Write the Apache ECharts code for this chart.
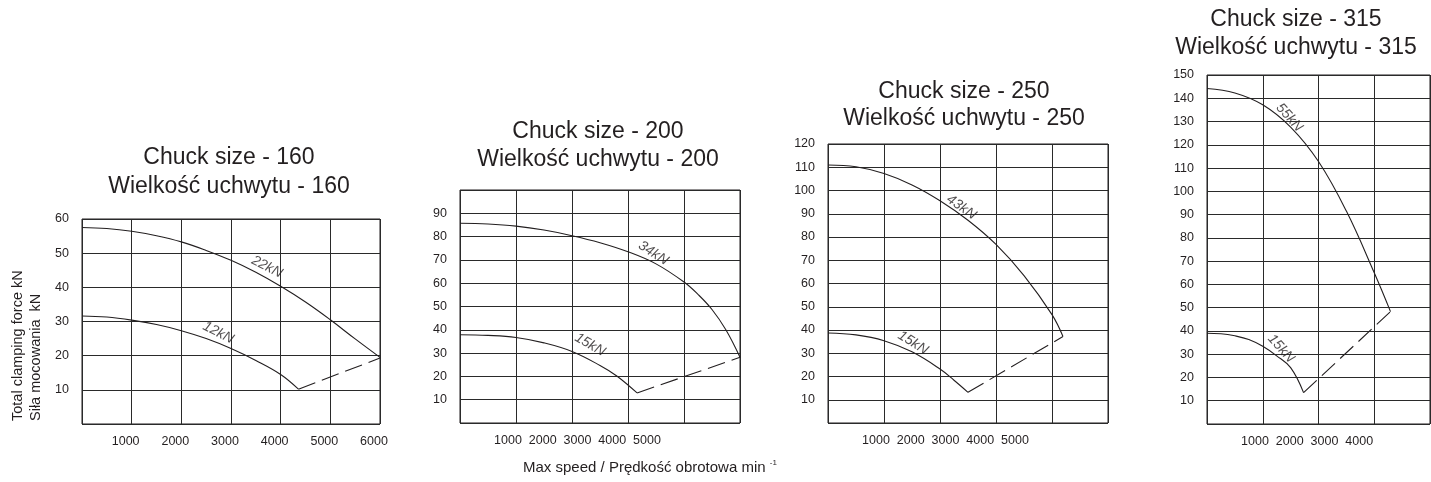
<!DOCTYPE html>
<html><head><meta charset="utf-8">
<script src="https://cdn.jsdelivr.net/npm/echarts@6/dist/echarts.min.js"></script>
<style>html,body{margin:0;padding:0;background:#fff}#c{width:1431px;height:482px}</style>
</head><body><div id="c"></div>
<script>
// ---------- DATA ----------
const titles = [
  ['Chuck size - 160', 'Wielkość uchwytu - 160'],
  ['Chuck size - 200', 'Wielkość uchwytu - 200'],
  ['Chuck size - 250', 'Wielkość uchwytu - 250'],
  ['Chuck size - 315', 'Wielkość uchwytu - 315']
];
const yAxisName = ['Total clamping force kN', 'Siła mocowania  kN'];
const xAxisName = 'Max speed / Prędkość obrotowa min';
const xAxisNameSup = '-1';

// value axes of each panel (grid scale)
const xMaxes = [6000, 5000, 5000, 4000];
const yMaxes = [60, 100, 120, 150];
// printed speed labels
const speedLabels160 = [1000, 2000, 3000, 4000, 5000, 6000];
const speedLabels200 = [1000, 2000, 3000, 4000, 5000];
const speedLabels250 = [1000, 2000, 3000, 4000, 5000];
const speedLabels315 = [1000, 2000, 3000, 4000];

// curves [speed, force]
const curve160_22kN = [[0,57.5],[500,57.2],[1000,56.4],[1500,55.1],[2000,53.3],[2500,50.8],[3000,47.9],[3500,44.4],[4000,40.3],[4500,35.7],[5000,30.5],[5500,24.9],[6000,19.5]];
const curve160_12kN = [[0,31.6],[500,31.3],[1000,30.4],[1500,29.1],[2000,27.3],[2500,25.0],[3000,22.1],[3500,18.6],[4000,14.5],[4358,10.2]];
const dash160 = [[4358,10.2],[6000,19.3]];

const curve200_34kN = [[0,85.7],[500,85.4],[1000,84.5],[1500,82.8],[2000,80.4],[2500,77.4],[3000,73.5],[3500,68.3],[4000,60.5],[4250,55.2],[4500,48.7],[4750,39.9],[5000,28.2]];
const curve200_15kN = [[0,37.9],[500,37.6],[1000,36.7],[1500,34.4],[2000,30.7],[2500,24.7],[2800,20.2],[3162,12.9]];
const dash200 = [[3162,12.9],[5000,28.2]];

const curve250_43kN = [[0,111.0],[500,110.2],[1000,107.3],[1500,102.4],[2000,95.6],[2500,87.2],[3000,76.8],[3500,63.4],[4000,46.6],[4196,37.2]];
const curve250_15kN = [[0,38.7],[500,37.9],[1000,35.4],[1500,30.6],[2000,23.2],[2250,18.4],[2500,13.2]];
const dash250 = [[2500,13.2],[4196,37.2]];

const curve315_55kN = [[0,144.2],[500,142.3],[1000,137.2],[1500,127.6],[2000,112.8],[2500,91.5],[3000,65.0],[3292,48.3]];
const curve315_15kN = [[0,39.0],[250,38.8],[500,37.9],[750,36.3],[1000,33.4],[1250,29.3],[1500,24.2],[1732,13.5]];
const dash315 = [[1732,13.5],[3292,48.3]];

// curve labels [text, speed, force]
const labels160 = [['22kN', 3725, 46.0], ['12kN', 2744, 26.7]];
const labels200 = [['34kN', 3452, 72.9], ['15kN', 2321, 33.6]];
const labels250 = [['43kN', 2382, 92.8], ['15kN', 1518, 34.5]];
const labels315 = [['55kN', 1477, 131.7], ['15kN', 1329, 32.4]];

// ---------- LAYOUT / STYLE ----------
const INK = '#231f20';
const GRIDC = '#2a2a2a';
const TICKFONT = "'Liberation Sans',Arial,sans-serif";
const FONT = "'Liberation Sans',Arial,sans-serif";
const gridBoxes = [
  {left: 82,   top: 219, width: 298, height: 205},
  {left: 460,  top: 190, width: 280, height: 233},
  {left: 828,  top: 144, width: 280, height: 279},
  {left: 1207, top: 75,  width: 223, height: 349}
];
const labelPxPer1000 = 34.75, labelZeroOffset = 13.25;
const titleCenters = [[229,158,187],[598,131.5,159.5],[964,91.5,118.5],[1296,20,48]];
const labelRot = [[-27,-27],[-33,-30],[-35,-32],[-48,-48]];
const showMaxY = [true, false, true, true];

const curves = [
  [curve160_22kN, curve160_12kN, dash160],
  [curve200_34kN, curve200_15kN, dash200],
  [curve250_43kN, curve250_15kN, dash250],
  [curve315_55kN, curve315_15kN, dash315]
];
const labelsAll = [labels160, labels200, labels250, labels315];
const speedLabelsAll = [speedLabels160, speedLabels200, speedLabels250, speedLabels315];
const plain = v => String(Math.round(v));

const grid = [], xAxis = [], yAxis = [], series = [];
gridBoxes.forEach((g, i) => {
  grid.push(Object.assign({show: true, borderColor: INK, borderWidth: 1, backgroundColor: 'transparent',
    containLabel: false, outerBoundsMode: 'none'}, g));
  const base = xAxis.length;
  xAxis.push({
    gridIndex: i, type: 'value', min: 0, max: xMaxes[i], interval: 1000, position: 'bottom',
    axisLine: {show: false}, axisTick: {show: false},
    splitLine: {show: true, lineStyle: {color: GRIDC, width: 1}},
    axisLabel: i === 0 ? {show: true, showMinLabel: false, formatter: plain, fontFamily: TICKFONT, fontSize: 12.5, color: INK,
      margin: 11, padding: [0, 12, 0, 0], hideOverlap: false} : {show: false}
  });
  if (i > 0) {
    const mn = -labelZeroOffset / labelPxPer1000 * 1000;
    const mx = mn + g.width / labelPxPer1000 * 1000;
    xAxis.push({
      gridIndex: i, type: 'value', min: mn, max: mx, position: 'bottom',
      axisLine: {show: false}, axisTick: {show: false}, splitLine: {show: false},
      axisLabel: {show: true, customValues: speedLabelsAll[i], formatter: plain, fontFamily: TICKFONT, fontSize: 12.5,
        color: INK, margin: 11, hideOverlap: false}
    });
  }
  yAxis.push({
    gridIndex: i, type: 'value', min: 0, max: yMaxes[i], interval: 10,
    axisLine: {show: false}, axisTick: {show: false},
    splitLine: {show: true, lineStyle: {color: GRIDC, width: 1}},
    axisLabel: {showMinLabel: false, showMaxLabel: showMaxY[i], formatter: plain, fontFamily: TICKFONT, fontSize: 12.5, color: INK, margin: 13}
  });
  curves[i].forEach((c, k) => {
    series.push({
      type: 'line', xAxisIndex: base, yAxisIndex: i, data: c, symbol: 'none', silent: true,
      smooth: k < 2 ? 0.4 : false,
      lineStyle: {color: INK, width: 1.1, type: k < 2 ? 'solid' : [18, 7]},
      z: 5
    });
  });
  series.push({
    type: 'scatter', xAxisIndex: base, yAxisIndex: i, silent: true,
    symbolSize: 1, itemStyle: {color: 'rgba(0,0,0,0)'},
    data: labelsAll[i].map((l, k) => ({value: [l[1], l[2]], name: l[0],
      label: {rotate: labelRot[i][k]}})),
    label: {show: true, position: 'inside', formatter: p => p.name, fontFamily: FONT, fontSize: 14,
      fontStyle: 'italic', color: INK},
    z: 6
  });
});

const graphic = [];
titleCenters.forEach((t, i) => {
  graphic.push({type: 'text', x: t[0], y: t[1], style: {text: titles[i][0], align: 'center', verticalAlign: 'middle',
    font: '23px ' + FONT, fill: INK}});
  graphic.push({type: 'text', x: t[0], y: t[2], style: {text: titles[i][1], align: 'center', verticalAlign: 'middle',
    font: '23px ' + FONT, fill: INK}});
});
graphic.push({type: 'text', x: 17.5, y: 421, rotation: Math.PI / 2,
  style: {text: yAxisName[0], align: 'left', verticalAlign: 'middle', font: '14.5px ' + FONT, fill: INK}});
graphic.push({type: 'text', x: 36, y: 421, rotation: Math.PI / 2,
  style: {text: yAxisName[1], align: 'left', verticalAlign: 'middle', font: '14.5px ' + FONT, fill: INK}});
graphic.push({type: 'text', x: 523, y: 468,
  style: {text: xAxisName + ' {sup|' + xAxisNameSup + '}', align: 'left', verticalAlign: 'middle',
    fontFamily: FONT, fontSize: 15, fill: INK,
    rich: {sup: {fontFamily: FONT, fontSize: 8, fill: INK, padding: [0, 0, 11, 0]}}}});

const chart = echarts.init(document.getElementById('c'), null, {renderer: 'canvas'});
chart.setOption({animation: false, backgroundColor: '#fff', grid, xAxis, yAxis, series, graphic});
</script></body></html>
